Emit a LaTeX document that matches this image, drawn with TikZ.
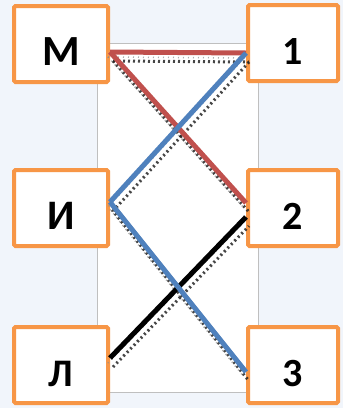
\documentclass[tikz,border=0pt]{standalone}
\usepackage{fontspec}
\setmainfont{Carlito}
\usetikzlibrary{calc}
\definecolor{boxorange}{HTML}{F79646}
\definecolor{linkred}{HTML}{C0504D}
\definecolor{linkblue}{HTML}{4F81BD}
\definecolor{pagebg}{HTML}{F1F5FB}
\definecolor{panelgray}{HTML}{BFBFBF}
\tikzset{
    labelbox/.style={rectangle, fill=white, draw=boxorange, line width=4pt, rounded corners=1.5pt, minimum height=76pt, inner sep=0pt, text height=42pt, text depth=0pt, font=\bfseries\fontsize{40}{40}\selectfont},
    leftbox/.style={labelbox, minimum width=94pt},
    rightbox/.style={labelbox, minimum width=90pt},
    redlink/.style={draw=linkred, line width=5pt},
    bluelink/.style={draw=linkblue, line width=5pt},
    blacklink/.style={draw=black, line width=5pt},
    ghostlink/.style={draw=black!85, line width=3pt, dash pattern=on 2pt off 3pt, opacity=0.85, transform canvas={xshift=3pt, yshift=-9pt}},
    ghostfaint/.style={draw=black!45, line width=1.5pt, dash pattern=on 1pt off 4pt, opacity=0.7, transform canvas={xshift=-2pt, yshift=-5pt}}
}

\begin{document}
\begin{tikzpicture}[x=1pt, y=-1pt]
    \fill[pagebg] (0,0) rectangle (343,408);
    \useasboundingbox (0,0) rectangle (343,408);
    \draw[panelgray, fill=white, line width=0.8pt] (97,43) rectangle (258,392);

    \node[leftbox, font=\bfseries\fontsize{43}{43}\selectfont] (M) at (61,44) {М};
    \node[leftbox, font=\bfseries\fontsize{42}{42}\selectfont] (I) at (61,208) {И};
    \node[leftbox, font=\bfseries\fontsize{39}{39}\selectfont] (L) at (61,365) {Л};
    \node[rightbox] (one) at (293,43) {1};
    \node[rightbox] (two) at (293,208) {2};
    \node[rightbox] (three) at (293,365) {3};

    % shadow dots
    \foreach \ghost in {ghostfaint, ghostlink} {
        \draw[\ghost] ([yshift=-8pt]M.east) -- ([yshift=-10pt]one.west);
        \draw[\ghost] ([yshift=-8pt]M.east) -- ([yshift=5pt]two.west);
        \draw[\ghost] ([yshift=-10pt]one.west) -- ([yshift=6pt]I.east) -- ([yshift=-7pt]three.west);
        \draw[\ghost] ([yshift=7pt]L.east) -- ([yshift=-9pt]two.west);
    }

    % links
    \draw[redlink] ([yshift=-8pt]M.east) -- ([yshift=-10pt]one.west);
    \draw[redlink] ([yshift=-8pt]M.east) -- ([yshift=5pt]two.west);
    \draw[blacklink] ([yshift=7pt]L.east) -- ([yshift=-9pt]two.west);
    \draw[bluelink] ([yshift=-10pt]one.west) -- ([yshift=6pt]I.east);
    \draw[bluelink] ([yshift=6pt]I.east) -- ([yshift=-7pt]three.west);
\end{tikzpicture}
\end{document}
